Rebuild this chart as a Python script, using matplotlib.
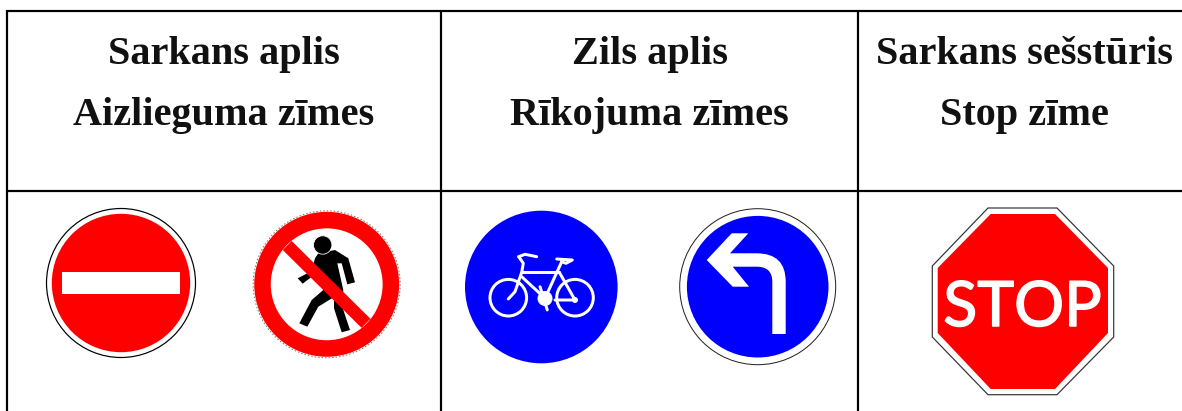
import matplotlib
matplotlib.use("Agg")
import matplotlib.pyplot as plt
import matplotlib.patheffects as pe
from matplotlib.patches import Circle, Polygon, PathPatch
from matplotlib.path import Path

# all geometry in picture pixels, y pointing down
WIDTH, HEIGHT = 1182, 411
PX = 0.72  # one pixel in points at dpi 100

HEADERS = [
    (223.5, "Sarkans aplis", "Aizlieguma zīmes"),
    (649.5, "Zils aplis", "Rīkojuma zīmes"),
    (1024.0, "Sarkans sešstūris", "Stop zīme"),
]
LINE1_Y, LINE2_Y = 64, 124.5
V_LINES = [7, 441, 858]
H_LINES = [11.5, 191.5]

RED = "#ff0000"
BLUE = "#0000ff"

WALKER = [
    (318.3, 253.3), (335, 250), (348.3, 258.3), (355, 282.3), (347.3, 284.3),
    (341.7, 263.3), (337.3, 263.3), (343.3, 290), (342, 306), (350, 330),
    (341.7, 332.3), (334, 308.3), (334, 297), (318.3, 306.7), (307.3, 326.7),
    (299.3, 323.3), (311.7, 300), (323.3, 290), (318.3, 271.7), (302.7, 283.7),
    (297.7, 278.3), (311.7, 271), (315, 258.3),
]
ARROW_VERTS = [
    (706.7, 260), (731.7, 233.3), (748.3, 233.3), (730, 253.3), (756.7, 253.3),
    (785.7, 253.3), (785.7, 281.7), (785.7, 334), (772.3, 334), (772.3, 281.7),
    (772.3, 266.7), (756.7, 266.7), (732.7, 266.7), (749, 286.7), (732.7, 286.7),
    (706.7, 260),
]
ARROW_CODES = [
    Path.MOVETO, Path.LINETO, Path.LINETO, Path.LINETO, Path.LINETO,
    Path.CURVE3, Path.CURVE3, Path.LINETO, Path.LINETO, Path.LINETO,
    Path.CURVE3, Path.CURVE3, Path.LINETO, Path.LINETO, Path.LINETO,
    Path.CLOSEPOLY,
]
BIKE_WHEELS = [(508.3, 297.7), (575, 297.7)]
BIKE_LINES = [
    [(508.3, 299), (515, 291.7), (521.7, 272.3), (523.3, 263.3), (518.7, 256.7)],
    [(518.7, 256.7), (525, 254.3), (536.7, 256.7)],
    [(521.7, 272.3), (559.3, 272.3)],
    [(521.7, 276.7), (545, 298.3)],
    [(561.7, 261.7), (545, 298.3)],
    [(556.7, 259), (572.3, 260), (566, 263.3), (561.7, 261.7)],
    [(559.3, 272.3), (575, 300), (555, 300)],
    [(540, 286.7), (547.3, 310)],
]
STOP_OUTER = [
    (988, 208), (1057, 208), (1113.7, 266), (1113.7, 337),
    (1057, 394.7), (988, 394.7), (932.3, 337), (932.3, 266),
]
STOP_INNER = [
    (990.7, 214), (1055, 214), (1108, 268), (1108, 333),
    (1055, 389), (990.7, 389), (937.7, 333), (937.7, 268),
]


def draw_no_entry(ax):
    cx, cy = 121, 283
    ax.add_patch(Circle((cx, cy), 74.5, fc="white", ec="black", lw=1.2 * PX))
    ax.add_patch(Circle((cx, cy), 69.2, fc=RED, ec="none"))
    ax.add_patch(plt.Rectangle((62, 272), 118, 22, fc="white", ec="none"))


def draw_no_walking(ax):
    cx, cy = 326.7, 284.3
    ax.add_patch(Circle((cx, cy), 73.5, fc="white", ec="#777777", lw=1 * PX, ls=(0, (1.5, 2))))
    ax.add_patch(Polygon(WALKER, closed=True, fc="black", ec="none"))
    ax.add_patch(Circle((322.7, 245), 9.2, fc="black", ec="white", lw=0.8 * PX))
    ax.plot([287.2, 366], [245.5, 323.3], color=RED, lw=12.7 * PX, solid_capstyle="butt")
    ax.add_patch(Circle((cx, cy), 64.2, fc="none", ec=RED, lw=16.5 * PX))


def draw_bike(ax):
    ax.add_patch(Circle((541.3, 287), 76.3, fc=BLUE, ec="none"))
    for center in BIKE_WHEELS:
        ax.add_patch(Circle(center, 18.3, fc="none", ec="white", lw=3 * PX))
    for pts in BIKE_LINES:
        ax.plot([p[0] for p in pts], [p[1] for p in pts], color="white", lw=3 * PX,
                solid_capstyle="round", solid_joinstyle="round")
    ax.add_patch(Circle((545, 298.5), 7.5, fc="white", ec="none"))
    ax.add_patch(Circle((575, 300), 3, fc="white", ec="none"))


def draw_turn_left(ax):
    cx, cy = 757.7, 286.7
    ax.add_patch(Circle((cx, cy), 78, fc="white", ec="#222222", lw=1 * PX))
    ax.add_patch(Circle((cx, cy), 70.8, fc=BLUE, ec="none"))
    ax.add_patch(PathPatch(Path(ARROW_VERTS, ARROW_CODES), fc="white", ec="none"))


def draw_stop(ax):
    ax.add_patch(Polygon(STOP_OUTER, closed=True, fc="white", ec="#333333", lw=1.2 * PX))
    ax.add_patch(Polygon(STOP_INNER, closed=True, fc=RED, ec="none"))
    ax.text(1022.5, 326, "STOP", color="white", fontsize=45, family="Lato",
            ha="center", va="baseline",
            path_effects=[pe.withStroke(linewidth=1.1, foreground="white")])


def main():
    fig = plt.figure(figsize=(WIDTH / 100, HEIGHT / 100), dpi=100)
    ax = fig.add_axes([0, 0, 1, 1])
    ax.set_xlim(0, WIDTH)
    ax.set_ylim(HEIGHT, 0)
    ax.axis("off")

    for y in H_LINES:
        ax.plot([6, WIDTH], [y, y], color="black", lw=2.2 * PX, solid_capstyle="butt")
    for x in V_LINES:
        ax.plot([x, x], [10.5, HEIGHT], color="black", lw=2.2 * PX, solid_capstyle="butt")

    for x, line1, line2 in HEADERS:
        for y, label in ((LINE1_Y, line1), (LINE2_Y, line2)):
            ax.text(x, y, label, fontsize=29, fontweight="bold", family="Liberation Serif",
                    ha="center", va="baseline", color="#111111")

    draw_no_entry(ax)
    draw_no_walking(ax)
    draw_bike(ax)
    draw_turn_left(ax)
    draw_stop(ax)

    fig.savefig("out.png", dpi=100, facecolor="white")
    plt.close(fig)


if __name__ == "__main__":
    main()
